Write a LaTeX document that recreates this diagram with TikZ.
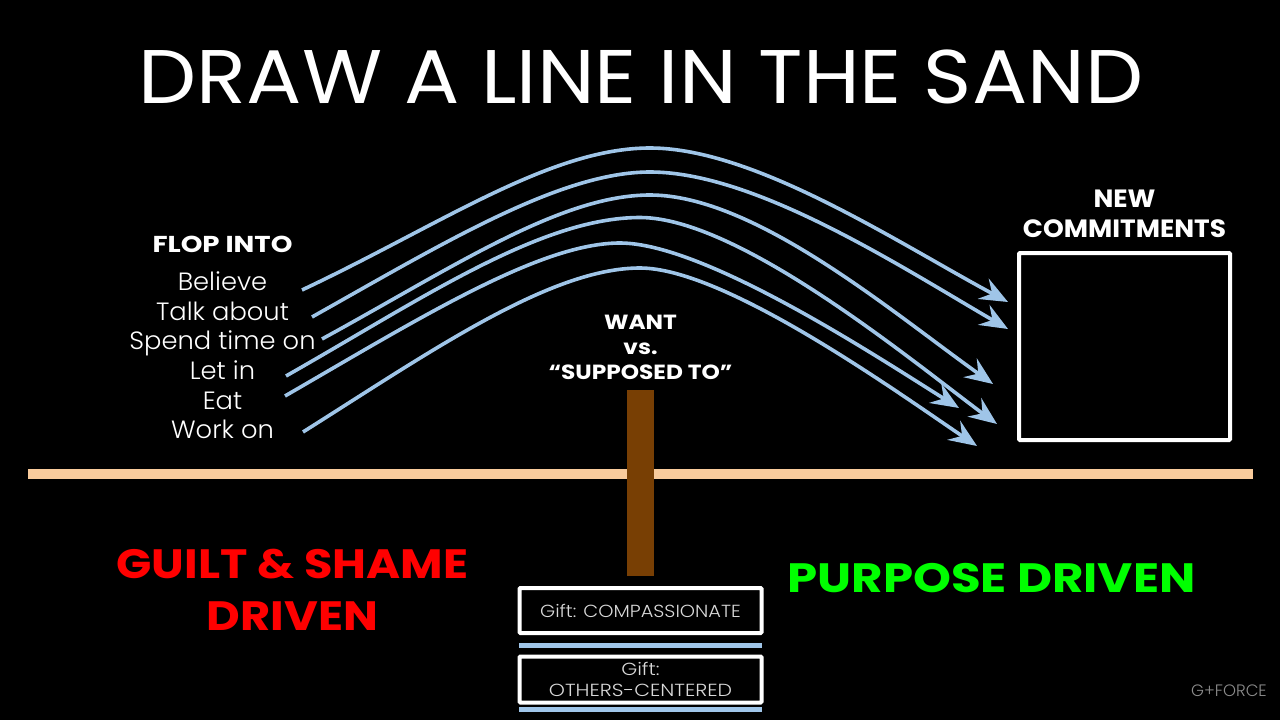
\documentclass[tikz,border=0pt]{standalone}
\usepackage{fontspec}
\setmainfont{Poppins}
\newfontfamily\lightf{Poppins Light}
\usetikzlibrary{arrows.meta}
\definecolor{arc}{HTML}{9FC5E8}
\definecolor{sand}{HTML}{F9CB9C}
\definecolor{post}{HTML}{783F04}
\tikzset{
  x=1pt,y=-1pt,
  arcline/.style={draw=arc,line width=3.6pt,-{Stealth[length=28pt,width=23pt,inset=10pt]}},
  frame/.style={draw=white,line width=4pt,rounded corners=1pt,fill=black},
  bar/.style={fill=arc,draw=none},
  lab/.style={text=white,inner sep=0pt,align=center,transform shape},
  flop/.style={lab,anchor=base,xscale=1.03,font=\lightf\fontsize{25}{25}\selectfont},
  small/.style={lab,font=\fontsize{20.5}{25}\selectfont\bfseries}
}
\begin{document}
\begin{tikzpicture}
\path[use as bounding box,fill=black] (0,0) rectangle (1280,720);
\node[lab,xscale=1.08,font=\fontsize{76}{76}\selectfont] (title) at (641,77) {DRAW A LINE IN THE SAND};
% sand, post
\fill[sand] (28,469) rectangle (1253,479);
\fill[post] (627,390) rectangle (654,576);
% labels left
\node[small,xscale=1.2,font=\fontsize{23}{23}\selectfont\bfseries] (flop) at (222.5,244) {FLOP INTO};
\node[flop] (f1) at (222.5,290.5) {Believe};
\node[flop] (f2) at (222.5,320.5) {Talk about};
\node[flop] (f3) at (222.5,349.5) {Spend time on};
\node[flop] (f4) at (222.5,379.5) {Let in};
\node[flop] (f5) at (222.5,409) {Eat};
\node[flop] (f6) at (222.5,438.5) {Work on};
% arcs
\coordinate (s1) at (302,290); \coordinate (p1) at (650,148); \coordinate (e1) at (1008,302);
\coordinate (s2) at (312,317); \coordinate (p2) at (650,172); \coordinate (e2) at (1008,329);
\coordinate (s3) at (322,339); \coordinate (p3) at (650,195); \coordinate (e3) at (993,384);
\coordinate (s4) at (286,376); \coordinate (p4) at (640,217.5); \coordinate (e4) at (997,424);
\coordinate (s5) at (285,396); \coordinate (p5) at (620,243); \coordinate (e5) at (959,408);
\coordinate (s6) at (303,432); \coordinate (p6) at (640,268); \coordinate (e6) at (977,446);
\draw[arcline] (s1) .. controls (440,225) and (550,148) .. (p1) .. controls (755,148) and (898,243) .. (e1);
\draw[arcline] (s2) .. controls (442,244) and (560,172) .. (p2) .. controls (755,172) and (898,265) .. (e2);
\draw[arcline] (s3) .. controls (452,268) and (560,195) .. (p3) .. controls (755,195) and (893,313) .. (e3);
\draw[arcline] (s4) .. controls (420,300) and (540,217.5) .. (p4) .. controls (740,217.5) and (917,365) .. (e4);
\draw[arcline] (s5) .. controls (420,318) and (540,243) .. (p5) .. controls (705,243) and (879,358) .. (e5);
\draw[arcline] (s6) .. controls (430,352) and (550,268) .. (p6) .. controls (725,268) and (897,392) .. (e6);
% want
\node[small,xscale=1.135] (want) at (640.5,347) {WANT\\vs.\\“SUPPOSED TO”};
% new commitments
\node[small,xscale=1.057,font=\fontsize{25}{30}\selectfont\bfseries] (nc) at (1124.5,214) {NEW\\COMMITMENTS};
\draw[draw=white,line width=4pt,rounded corners=1pt] (1019,253) rectangle (1230,440);
% driven
\node[lab,xscale=1.13,text=red,font=\fontsize{41}{52}\selectfont\bfseries] (guilt) at (292.5,589.5) {GUILT \& SHAME\\DRIVEN};
\node[lab,xscale=1.177,text=green,font=\fontsize{41}{50}\selectfont\bfseries] (purpose) at (991.5,578) {PURPOSE DRIVEN};
% gifts
\node[frame,minimum width=242pt,minimum height=45pt,inner sep=0pt] (g1) at (640.5,610.5) {};
\node[lab,xscale=1.105,text=white!85!black,font=\lightf\fontsize{17.5}{17.5}\selectfont] (g1t) at (640.5,610.5) {Gift: COMPASSIONATE};
\node[frame,minimum width=242pt,minimum height=46pt,inner sep=0pt] (g2) at (640.5,679.5) {};
\node[lab,xscale=1.17,text=white!85!black,font=\lightf\fontsize{17.5}{21.5}\selectfont] (g2t) at (640.5,679.5) {Gift:\\OTHERS-CENTERED};
\fill[bar] (519,643) rectangle (762,647.5);
\fill[bar] (519,707) rectangle (762,711.5);
% logo
\node[lab,text=white!55!black,font=\lightf\fontsize{16.5}{16.5}\selectfont] (logo) at (1229,691) {G+FORCE};
\end{tikzpicture}
\end{document}
